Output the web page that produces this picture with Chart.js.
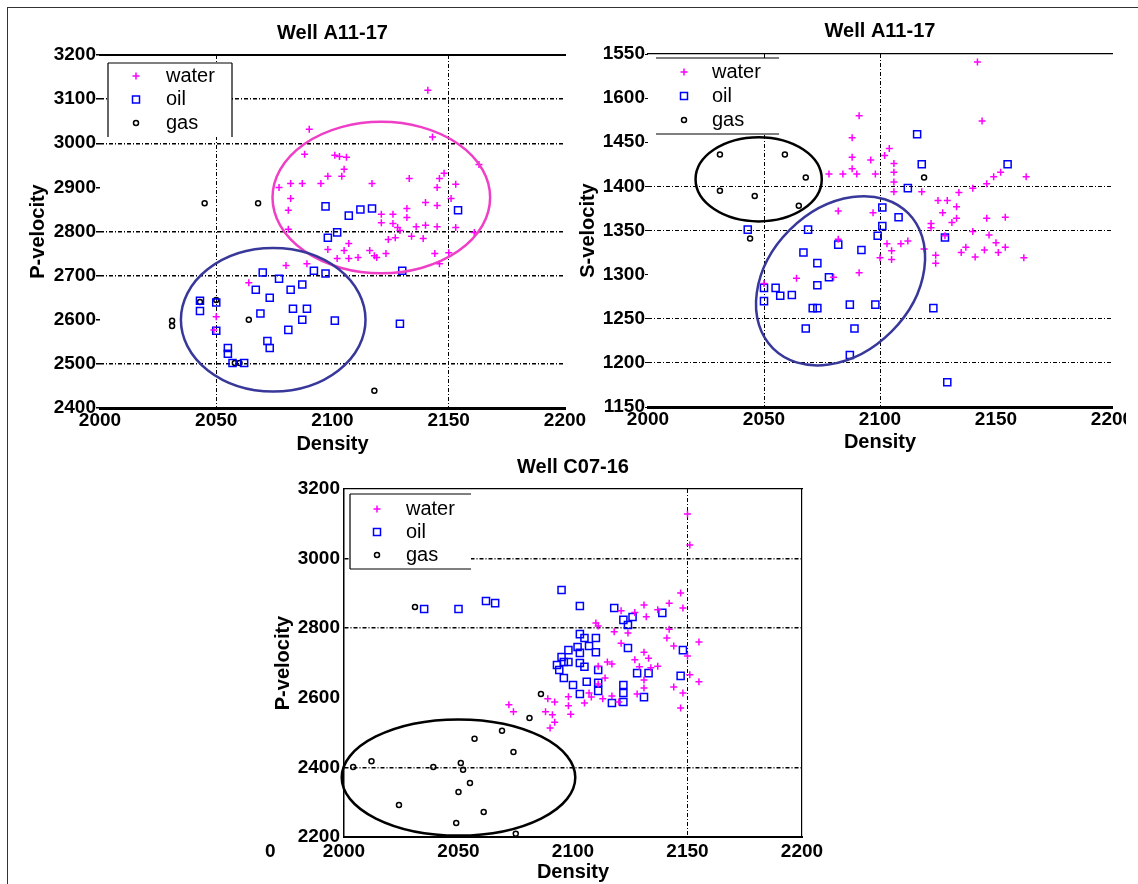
<!DOCTYPE html>
<html>
<head>
<meta charset="utf-8">
<script src="https://cdn.jsdelivr.net/npm/chart.js@4.4.1/dist/chart.umd.min.js"></script>
<style>
  body { margin: 0; background: #fff; width: 1138px; height: 884px; overflow: hidden; position: relative; font-family: "Liberation Sans", Arial, sans-serif; }
  canvas { position: absolute; }
  #frame { position: absolute; left: 7px; top: 7px; width: 1140px; height: 890px; border-left: 1px solid #333; border-top: 1px solid #333; }
  #clip2 { position: absolute; left: 570px; top: 0; width: 556px; height: 460px; overflow: hidden; }
  #zero { position: absolute; left: 265px; top: 840px; font: bold 19px "Liberation Sans", Arial, sans-serif; color: #000; }
</style>
</head>
<body>
<div id="frame"></div>
<canvas id="c1" width="664" height="460" style="left:0;top:0"></canvas>
<div id="clip2"><canvas id="c2" width="568" height="460" style="left:0;top:0"></canvas></div>
<canvas id="c3" width="600" height="434" style="left:240px;top:450px"></canvas>
<span id="zero">0</span>
<script>
// series labels
const fluids = ['water', 'oil', 'gas'];

// Well A11-17, density vs P-velocity
const a11pWater = [[2090,3032],[2088,2975],[2101,2973],[2103,2970],[2106,2968],[2105,2941],[2104,2925],[2098,2925],
  [2082,2909],[2087,2909],[2095,2909],[2077,2900],[2117,2909],[2082,2875],[2081,2848],[2081,2805],[2098,2759],
  [2105,2757],[2107,2739],[2111,2741],[2116,2757],[2118,2745],[2102,2739],[2080,2723],[2089,2727],[2064,2684],
  [2141,3120],[2143,3014],[2133,2920],[2146,2920],[2148,2932],[2145,2900],[2153,2907],[2163,2952],[2151,2875],
  [2140,2866],[2145,2859],[2132,2852],[2121,2839],[2126,2839],[2132,2832],[2121,2820],[2126,2818],[2128,2809],
  [2129,2802],[2136,2811],[2140,2814],[2145,2811],[2153,2809],[2134,2789],[2139,2784],[2124,2782],[2127,2786],
  [2161,2798],[2144,2750],[2150,2752],[2146,2727],[2119,2741],[2123,2750],[2107,2773],[2050,2607],[2049,2577]];
const a11pOil = [[2097,2857],[2107,2836],[2112,2850],[2117,2852],[2154,2848],[2102,2798],[2098,2786],[2130,2711],
  [2092,2711],[2097,2705],[2070,2707],[2077,2693],[2067,2668],[2087,2680],[2082,2668],[2073,2650],[2043,2643],
  [2050,2639],[2043,2620],[2069,2614],[2083,2625],[2089,2625],[2087,2600],[2101,2598],[2129,2591],[2050,2575],
  [2081,2577],[2072,2552],[2073,2536],[2055,2536],[2055,2523],[2057,2502],[2062,2502]];
const a11pGas = [[2045,2864],[2068,2864],[2031,2598],[2031,2586],[2064,2600],[2058,2502],[2060,2502],[2118,2439],
  [2043,2640],[2050,2645]];

// Well A11-17, density vs S-velocity
const a11sWater = [[2142,1541],[2144,1474],[2091,1480],[2088,1455],[2088,1433],[2088,1420],[2078,1414],[2084,1414],
  [2090,1414],[2098,1414],[2096,1430],[2104,1443],[2102,1435],[2106,1426],[2106,1416],[2106,1405],[2106,1394],
  [2118,1394],[2082,1372],[2097,1370],[2082,1340],[2103,1335],[2109,1335],[2112,1338],[2105,1327],[2100,1319],
  [2105,1317],[2091,1302],[2064,1296],[2080,1297],[2122,1353],[2125,1384],[2129,1384],[2127,1370],[2119,1329],
  [2124,1322],[2124,1313],[2134,1393],[2140,1398],[2146,1403],[2149,1411],[2152,1416],[2163,1411],[2133,1377],
  [2133,1364],[2131,1359],[2122,1358],[2146,1364],[2154,1365],[2140,1349],[2147,1345],[2128,1344],[2150,1336],
  [2154,1331],[2151,1325],[2145,1328],[2137,1331],[2135,1325],[2141,1320],[2162,1319],[2050,1290]];
const a11sOil = [[2043,1351],[2069,1351],[2101,1376],[2108,1365],[2101,1355],[2099,1344],[2082,1334],[2092,1328],
  [2067,1325],[2073,1313],[2078,1297],[2073,1288],[2116,1459],[2118,1425],[2112,1398],[2128,1342],[2155,1425],
  [2050,1285],[2055,1285],[2062,1277],[2050,1270],[2057,1276],[2071,1262],[2073,1262],[2087,1266],[2098,1266],
  [2068,1239],[2089,1239],[2087,1209],[2123,1262],[2129,1178]];
const a11sGas = [[2031,1436],[2059,1436],[2068,1410],[2031,1395],[2046,1389],[2065,1378],[2044,1341],[2119,1410]];
const a11sTicks = ['1150','1200','1250','1300','1350','1400','1450','1600','1550'];

// Well C07-16, density vs P-velocity
const c07pWater = [[2110,2815],[2147,2901],[2142,2872],[2131,2867],[2137,2853],[2121,2850],[2127,2845],[2132,2833],
  [2148,2858],[2111,2806],[2142,2797],[2124,2786],[2118,2790],[2141,2772],[2155,2760],[2121,2757],[2131,2731],
  [2144,2749],[2150,2720],[2127,2709],[2133,2714],[2115,2703],[2117,2697],[2129,2689],[2134,2686],[2137,2691],
  [2111,2691],[2114,2657],[2151,2666],[2155,2646],[2111,2640],[2131,2651],[2131,2628],[2144,2631],[2128,2611],
  [2148,2614],[2108,2602],[2107,2614],[2117,2605],[2113,2597],[2120,2588],[2105,2585],[2089,2597],[2092,2588],
  [2098,2603],[2098,2577],[2147,2571],[2072,2580],[2074,2560],[2088,2560],[2091,2551],[2099,2553],[2092,2530],
  [2090,2513],[2150,3128],[2151,3039]];
const c07pOil = [[2035,2855],[2050,2855],[2062,2878],[2066,2872],[2095,2910],[2103,2864],[2118,2858],[2126,2832],
  [2122,2824],[2124,2809],[2139,2844],[2103,2783],[2105,2772],[2110,2772],[2107,2749],[2102,2746],[2098,2737],
  [2110,2731],[2103,2729],[2124,2743],[2148,2737],[2095,2717],[2096,2703],[2098,2703],[2093,2694],[2103,2700],
  [2105,2689],[2111,2680],[2094,2680],[2128,2671],[2133,2671],[2147,2663],[2096,2657],[2100,2637],[2106,2646],
  [2111,2643],[2122,2637],[2122,2614],[2111,2620],[2103,2611],[2131,2602],[2117,2585],[2122,2588]];
const c07pGas = [[2031,2861],[2086,2611],[2081,2542],[2069,2505],[2057,2482],[2074,2444],[2012,2418],[2004,2401],
  [2039,2401],[2051,2413],[2052,2393],[2055,2355],[2050,2329],[2024,2292],[2061,2272],[2049,2240],[2075,2209]];

// hand drawn ellipses (centre and half axes in data units)
const rings = {
  c1: [{cx: 2121, cy: 2877, rx: 46.8, ry: 171.6, color: '#ef3fc6'},
       {cx: 2074.5, cy: 2600, rx: 39.7, ry: 162.5, color: '#38389a'}],
  c2: [{cx: 2047.7, cy: 1408, rx: 27.2, ry: 47.7, color: '#000'},
       {cx: 2083, cy: 1293, rx: 41.2, ry: 81.5, rot: -Math.PI / 4, color: '#38389a'}],
  c3: [{cx: 2050, cy: 2371, rx: 51, ry: 167, color: '#000'}]
};

const legendBoxes = {
  c1: {x: 108, y: 63, w: 124, h: 74, first: 13, row: 23.5, mx: 28, tx: 58, sides: ['top', 'left', 'right']},
  c2: {x: 86, y: 58, w: 123, h: 76, first: 14, row: 24, mx: 28, tx: 56, sides: ['top', 'bottom']},
  c3: {x: 110, y: 44, w: 121, h: 75, first: 15, row: 23, mx: 27, tx: 56, sides: ['top', 'bottom', 'left']}
};

const ringPlugin = {
  id: 'rings',
  afterDatasetsDraw(chart) {
    const ctx = chart.ctx, x = chart.scales.x, y = chart.scales.y;
    (rings[chart.canvas.id] || []).forEach(e => {
      const cx = x.getPixelForValue(e.cx), cy = y.getPixelForValue(e.cy);
      const rx = Math.abs(x.getPixelForValue(e.cx + e.rx) - cx);
      const ry = Math.abs(y.getPixelForValue(e.cy + e.ry) - cy);
      ctx.save();
      ctx.beginPath();
      ctx.ellipse(cx, cy, rx, ry, e.rot || 0, 0, Math.PI * 2);
      ctx.lineWidth = 2.5;
      ctx.strokeStyle = e.color;
      ctx.stroke();
      ctx.restore();
    });
  }
};

function drawMarker(ctx, style, color, x, y) {
  ctx.strokeStyle = color;
  ctx.lineWidth = 1.5;
  ctx.beginPath();
  if (style === 'cross') {
    ctx.moveTo(x - 3.5, y); ctx.lineTo(x + 3.5, y);
    ctx.moveTo(x, y - 3.5); ctx.lineTo(x, y + 3.5);
  } else if (style === 'rect') {
    ctx.rect(x - 3.5, y - 3.5, 7, 7);
  } else {
    ctx.arc(x, y, 2.5, 0, Math.PI * 2);
  }
  ctx.stroke();
}

const legendPlugin = {
  id: 'boxLegend',
  afterDraw(chart) {
    const L = legendBoxes[chart.canvas.id];
    const ctx = chart.ctx;
    ctx.save();
    ctx.fillStyle = '#fff';
    ctx.fillRect(L.x, L.y, L.w, L.h);
    ctx.strokeStyle = '#000';
    ctx.lineWidth = 1.2;
    ctx.beginPath();
    if (L.sides.includes('top')) { ctx.moveTo(L.x, L.y); ctx.lineTo(L.x + L.w, L.y); }
    if (L.sides.includes('bottom')) { ctx.moveTo(L.x, L.y + L.h); ctx.lineTo(L.x + L.w, L.y + L.h); }
    if (L.sides.includes('left')) { ctx.moveTo(L.x, L.y); ctx.lineTo(L.x, L.y + L.h); }
    if (L.sides.includes('right')) { ctx.moveTo(L.x + L.w, L.y); ctx.lineTo(L.x + L.w, L.y + L.h); }
    ctx.stroke();
    chart.data.datasets.forEach((ds, i) => {
      const ry = L.y + L.first + i * L.row;
      drawMarker(ctx, ds.pointStyle, ds.borderColor, L.x + L.mx, ry);
      ctx.fillStyle = '#000';
      ctx.font = '20px "Liberation Sans", Arial, sans-serif';
      ctx.textBaseline = 'middle';
      ctx.fillText(ds.label, L.x + L.tx, ry);
    });
    ctx.restore();
  }
};

function series(label, list, style, color, r) {
  return {
    label: label,
    data: list.map(p => ({x: p[0], y: p[1]})),
    pointStyle: style,
    borderColor: color,
    backgroundColor: 'transparent',
    pointRadius: r,
    pointBorderWidth: 1.5,
    showLine: false
  };
}

const tickFont = {family: '"Liberation Sans", Arial, sans-serif', size: 19, weight: 'bold'};
const titleFont = {family: '"Liberation Sans", Arial, sans-serif', size: 20, weight: 'bold'};
const axFont = {family: '"Liberation Sans", Arial, sans-serif', size: 20, weight: 'bold'};
const dashDot = [4, 2, 1, 2];

function makeChart(id, sets, o) {
  const scales = {
    x: {
      type: 'linear', min: 2000, max: 2200,
      ticks: {stepSize: 50, autoSkip: false, maxRotation: 0, color: '#000', font: tickFont, padding: o.xPad,
              callback: v => String(v)},
      grid: {color: c => (c.tick && o.xGrid.includes(c.tick.value)) ? '#000' : 'transparent', drawTicks: false, lineWidth: 1},
      border: {display: true, color: '#000', width: o.xBorder, dash: dashDot},
      title: {display: true, text: 'Density', color: '#000', font: axFont, padding: {top: 0, bottom: o.xTitlePad}},
      afterFit: s => { s.height = o.xH; }
    },
    x2: {
      type: 'linear', position: 'top', min: 2000, max: 2200,
      ticks: {display: false}, grid: {display: false},
      border: {display: true, color: '#000', width: o.topW},
      afterFit: s => { s.height = 0; }
    },
    y: {
      type: 'linear', min: o.yMin, max: o.yMax,
      ticks: {stepSize: o.yStep, color: '#000', font: tickFont, padding: o.yPad,
              callback: (v, i) => o.yLabels ? o.yLabels[i] : String(v)},
      grid: {color: c => (c.tick && o.yGrid.includes(c.tick.value)) ? '#000' : 'transparent',
             tickColor: '#000', tickLength: o.yTick, lineWidth: o.gridW},
      border: {display: o.leftW > 0, color: '#000', width: o.leftW || 1, dash: dashDot},
      title: {display: true, text: o.yTitle, color: '#000', font: axFont, padding: {top: o.yTitlePad, bottom: 0}},
      afterFit: s => { s.width = o.yW; }
    }
  };
  if (o.rightW) {
    scales.y2 = {
      type: 'linear', position: 'right', min: o.yMin, max: o.yMax,
      ticks: {display: false}, grid: {display: false},
      border: {display: true, color: '#000', width: o.rightW},
      afterFit: s => { s.width = 0; }
    };
  }
  return new Chart(document.getElementById(id), {
    type: 'scatter',
    data: {datasets: sets},
    plugins: [ringPlugin, legendPlugin],
    options: {
      responsive: false,
      animation: false,
      layout: {padding: {top: 0, left: 0, right: o.padR, bottom: 0}},
      plugins: {
        legend: {display: false},
        tooltip: {enabled: false},
        title: {display: true, text: o.title, fullSize: false, color: '#000', font: titleFont,
                padding: {top: o.tTop, bottom: o.tBottom}}
      },
      scales: scales
    }
  });
}

makeChart('c1', [
  series(fluids[0], a11pWater, 'cross', '#ff00ff', 3.5),
  series(fluids[1], a11pOil, 'rect', '#0000ff', 5),
  series(fluids[2], a11pGas, 'circle', '#000', 2.5)
], {
  title: 'Well A11-17', tTop: 21, tBottom: 10, padR: 99,
  yMin: 2400, yMax: 3200, yStep: 100, yTitle: 'P-velocity', yW: 100, yTitlePad: 26, yPad: 0, yTick: 4,
  yGrid: [3100, 3000, 2800, 2700, 2500], xGrid: [2050, 2150], gridW: 1.5,
  xH: 52, xPad: 1, xTitlePad: 4, xBorder: 3, topW: 2, leftW: 0
});

makeChart('c2', [
  series(fluids[0], a11sWater, 'cross', '#ff00ff', 3.5),
  series(fluids[1], a11sOil, 'rect', '#0000ff', 5),
  series(fluids[2], a11sGas, 'circle', '#000', 2.5)
], {
  title: 'Well A11-17', tTop: 19, tBottom: 11, padR: 26,
  yMin: 1150, yMax: 1550, yStep: 50, yTitle: 'S-velocity', yW: 78, yTitlePad: 6, yPad: 0, yTick: 3,
  yLabels: a11sTicks,
  yGrid: [1400, 1350, 1250, 1200], xGrid: [2050, 2100], gridW: 1,
  xH: 53, xPad: 1, xTitlePad: 6, xBorder: 3, topW: 1.2, leftW: 0
});

makeChart('c3', [
  series(fluids[0], c07pWater, 'cross', '#ff00ff', 3.5),
  series(fluids[1], c07pOil, 'rect', '#0000ff', 5),
  series(fluids[2], c07pGas, 'circle', '#000', 2.5)
], {
  title: 'Well C07-16', tTop: 5, tBottom: 10, padR: 38,
  yMin: 2200, yMax: 3200, yStep: 200, yTitle: 'P-velocity', yW: 104, yTitlePad: 31, yPad: 4, yTick: 0,
  yGrid: [3000, 2800, 2400], xGrid: [2150], gridW: 1.5,
  xH: 47, xPad: 3, xTitlePad: 0, xBorder: 2, topW: 1.2, leftW: 1.5, rightW: 1.2
});
</script>
</body>
</html>
